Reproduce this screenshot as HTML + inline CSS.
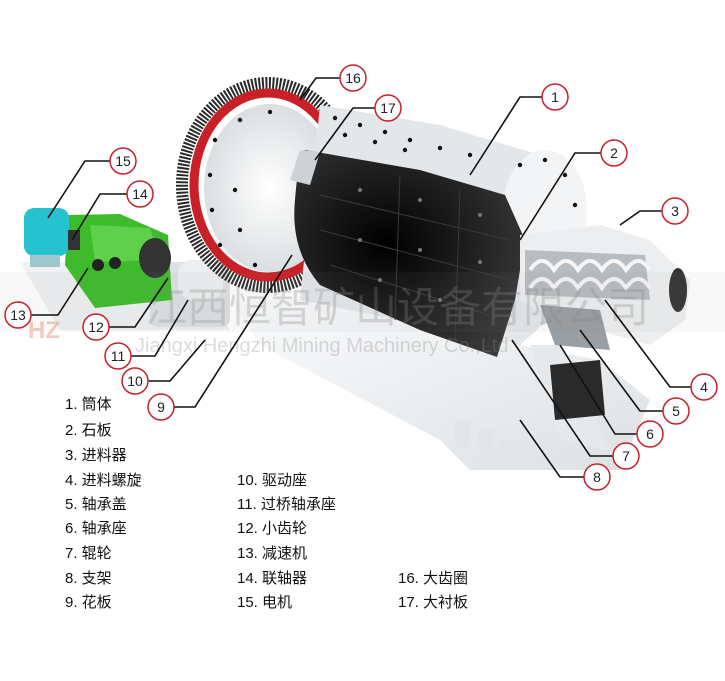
<!DOCTYPE html>
<html><head><meta charset="utf-8"><style>
html,body{margin:0;padding:0;background:#fff;}
#w{position:relative;width:725px;height:681px;overflow:hidden;background:#fff;}
svg{position:absolute;left:0;top:0;}
.t{font-family:"Liberation Sans","Noto Sans CJK SC",sans-serif;font-size:15px;fill:#111;}
.n{font-family:"Liberation Sans",sans-serif;font-size:14px;fill:#222;text-anchor:middle;}
</style></head><body><div id="w">
<svg width="725" height="681" viewBox="0 0 725 681">
<defs>
<linearGradient id="base" x1="0" y1="0" x2="1" y2="1"><stop offset="0" stop-color="#fafbfc"/><stop offset="1" stop-color="#dde1e4"/></linearGradient>
<radialGradient id="inner" cx="0.4" cy="0.45" r="0.7"><stop offset="0" stop-color="#000"/><stop offset="1" stop-color="#3c3c3c"/></radialGradient>
<radialGradient id="face" cx="0.5" cy="0.5" r="0.6"><stop offset="0" stop-color="#fff"/><stop offset="1" stop-color="#d4d8db"/></radialGradient>
</defs>
<!-- base frame -->
<polygon points="230,300 300,300 520,345 600,360 650,400 620,470 470,470 440,440 260,345" fill="url(#base)"/>
<polygon points="530,345 560,345 610,450 560,440" fill="#e6e9ec"/>
<polygon points="550,365 600,360 605,415 555,420" fill="#2a2a2a"/>
<g fill="#e2e6e9"><rect x="455" y="420" width="15" height="30"/><rect x="478" y="430" width="15" height="30"/><rect x="500" y="440" width="15" height="30"/></g>
<!-- drive -->
<polygon points="20,262 180,262 230,330 60,330" fill="#eef0f2"/>
<rect x="150" y="262" width="80" height="65" rx="8" fill="#dde1e4"/>
<rect x="178" y="260" width="45" height="40" rx="14" fill="#eceef0"/>
<polygon points="68,215 120,214 168,235 172,300 95,308 65,265" fill="#3dbb2a"/>
<polygon points="90,225 150,228 160,260 95,262" fill="#5ed04a"/>
<circle cx="98" cy="265" r="6" fill="#222"/><circle cx="115" cy="263" r="6" fill="#222"/>
<ellipse cx="155" cy="258" rx="16" ry="20" fill="#333"/>
<rect x="24" y="208" width="45" height="48" rx="10" fill="#27c2cf"/>
<rect x="30" y="255" width="30" height="12" fill="#9fc7cc"/>
<rect x="68" y="230" width="12" height="20" fill="#333"/>
<!-- gear ring -->
<ellipse cx="268" cy="185" rx="86" ry="102" fill="none" stroke="#2a2a2a" stroke-width="12" stroke-dasharray="2 1.5"/>
<ellipse cx="268" cy="185" rx="74" ry="92" fill="none" stroke="#c91f26" stroke-width="9"/>
<ellipse cx="270" cy="188" rx="66" ry="84" fill="url(#face)"/>
<!-- shell -->
<polygon points="320,105 440,125 540,155 585,210 570,300 520,345 300,300" fill="#e4e7ea"/>
<ellipse cx="545" cy="210" rx="42" ry="60" fill="#f3f4f5"/>
<!-- dark interior -->
<path d="M305,150 L420,170 L505,195 L525,240 L515,300 L497,357 L420,330 L320,285 Q290,250 295,200 Q298,160 305,150 Z" fill="url(#inner)"/>
<polygon points="300,150 320,152 310,185 290,180" fill="#cfd2d5"/>
<g stroke="#3a3a3a" stroke-width="1" fill="none">
<path d="M320,195 L510,240"/><path d="M320,230 L510,280"/><path d="M330,265 L505,320"/>
<path d="M400,175 L395,320"/><path d="M460,190 L455,340"/>
</g>
<!-- dots -->
<g fill="#111">
<circle cx="215" cy="140" r="2.2"/><circle cx="210" cy="175" r="2.2"/><circle cx="212" cy="210" r="2.2"/><circle cx="220" cy="245" r="2.2"/>
<circle cx="240" cy="120" r="2.2"/><circle cx="270" cy="112" r="2.2"/><circle cx="235" cy="190" r="2.2"/><circle cx="240" cy="230" r="2.2"/><circle cx="255" cy="265" r="2.2"/>
<circle cx="335" cy="118" r="2.2"/><circle cx="360" cy="125" r="2.2"/><circle cx="385" cy="132" r="2.2"/><circle cx="410" cy="140" r="2.2"/><circle cx="440" cy="148" r="2.2"/><circle cx="470" cy="155" r="2.2"/>
<circle cx="345" cy="135" r="2.2"/><circle cx="375" cy="142" r="2.2"/><circle cx="405" cy="150" r="2.2"/>
<circle cx="520" cy="165" r="2.2"/><circle cx="545" cy="160" r="2.2"/><circle cx="565" cy="175" r="2.2"/><circle cx="575" cy="205" r="2.2"/><circle cx="572" cy="235" r="2.2"/>
</g>
<g fill="#777">
<circle cx="360" cy="190" r="2"/><circle cx="420" cy="200" r="2"/><circle cx="480" cy="215" r="2"/>
<circle cx="360" cy="240" r="2"/><circle cx="420" cy="250" r="2"/><circle cx="480" cy="262" r="2"/>
<circle cx="380" cy="280" r="2"/><circle cx="440" cy="300" r="2"/>
</g>
<!-- feeder -->
<polygon points="520,235 600,225 650,240 690,280 685,320 650,345 560,320 520,300" fill="#eceef0"/>
<polygon points="525,250 645,255 650,300 525,295" fill="#b8bdc1"/>
<path d="M530,270 q12,-18 24,0 q12,-18 24,0 q12,-18 24,0 q12,-18 24,0 q12,-18 24,0" stroke="#f5f5f5" stroke-width="4" fill="none"/>
<path d="M530,288 q12,-18 24,0 q12,-18 24,0 q12,-18 24,0 q12,-18 24,0 q12,-18 24,0" stroke="#f5f5f5" stroke-width="4" fill="none"/>
<ellipse cx="678" cy="290" rx="9" ry="22" fill="#333"/>
<polygon points="540,305 600,310 610,350 555,345" fill="#9a9fa3"/>
<!-- watermark -->
<rect x="0" y="272" width="725" height="60" fill="#888" fill-opacity="0.06"/>
<text x="145" y="322" font-family="Liberation Sans,'Noto Sans CJK SC',sans-serif" font-size="42" fill="#888" fill-opacity="0.3">江西恒智矿山设备有限公司</text>
<text x="135" y="352" font-family="Liberation Sans,sans-serif" font-size="20" fill="#888" fill-opacity="0.3">Jiangxi Hengzhi Mining Machinery Co.,Ltd</text>
<text x="28" y="338" font-family="Liberation Sans,sans-serif" font-size="24" font-weight="bold" fill="#e07050" fill-opacity="0.35">HZ</text>
<!-- leaders -->
<g stroke="#111" stroke-width="1.6" fill="none">
<polyline points="542,97 520,97 470,175"/>
<polyline points="601,153 575,153 520,240"/>
<polyline points="662,211 640,211 620,225"/>
<polyline points="691,387 670,387 605,300"/>
<polyline points="663,411 640,411 580,330"/>
<polyline points="637,434 615,434 560,345"/>
<polyline points="613,456 590,456 512,340"/>
<polyline points="584,477 560,477 520,420"/>
<polyline points="174,407 195,407 292,255"/>
<polyline points="148,381 170,381 205,340"/>
<polyline points="131,356 155,356 188,300"/>
<polyline points="109,327 135,327 168,278"/>
<polyline points="31,315 58,315 88,268"/>
<polyline points="127,194 100,194 72,240"/>
<polyline points="110,161 85,161 48,218"/>
<polyline points="340,78 316,78 300,100"/>
<polyline points="375,108 353,108 315,160"/>
</g>
<g fill="#fff" stroke="#c8202a" stroke-width="1.5">
<circle cx="555" cy="97" r="13"/><circle cx="614" cy="153" r="13"/><circle cx="675" cy="211" r="13"/>
<circle cx="704" cy="387" r="13"/><circle cx="676" cy="411" r="13"/><circle cx="650" cy="434" r="13"/>
<circle cx="626" cy="456" r="13"/><circle cx="597" cy="477" r="13"/><circle cx="161" cy="407" r="13"/>
<circle cx="135" cy="381" r="13"/><circle cx="118" cy="356" r="13"/><circle cx="96" cy="327" r="13"/>
<circle cx="18" cy="315" r="13"/><circle cx="140" cy="194" r="13"/><circle cx="123" cy="161" r="13"/>
<circle cx="353" cy="78" r="13"/><circle cx="388" cy="108" r="13"/>
</g>
<g class="n">
<text x="555" y="102">1</text><text x="614" y="158">2</text><text x="675" y="216">3</text>
<text x="704" y="392">4</text><text x="676" y="416">5</text><text x="650" y="439">6</text>
<text x="626" y="461">7</text><text x="597" y="482">8</text><text x="161" y="412">9</text>
<text x="135" y="386">10</text><text x="118" y="361">11</text><text x="96" y="332">12</text>
<text x="18" y="320">13</text><text x="140" y="199">14</text><text x="123" y="166">15</text>
<text x="353" y="83">16</text><text x="388" y="113">17</text>
</g>
<!-- legend -->
<g class="t">
<text x="65" y="409">1. 筒体</text>
<text x="65" y="435">2. 石板</text>
<text x="65" y="460">3. 进料器</text>
<text x="65" y="485">4. 进料螺旋</text>
<text x="65" y="509">5. 轴承盖</text>
<text x="65" y="533">6. 轴承座</text>
<text x="65" y="558">7. 辊轮</text>
<text x="65" y="583">8. 支架</text>
<text x="65" y="607">9. 花板</text>
<text x="237" y="485">10. 驱动座</text>
<text x="237" y="509">11. 过桥轴承座</text>
<text x="237" y="533">12. 小齿轮</text>
<text x="237" y="558">13. 减速机</text>
<text x="237" y="583">14. 联轴器</text>
<text x="237" y="607">15. 电机</text>
<text x="398" y="583">16. 大齿圈</text>
<text x="398" y="607">17. 大衬板</text>
</g>
</svg>
</div></body></html>
